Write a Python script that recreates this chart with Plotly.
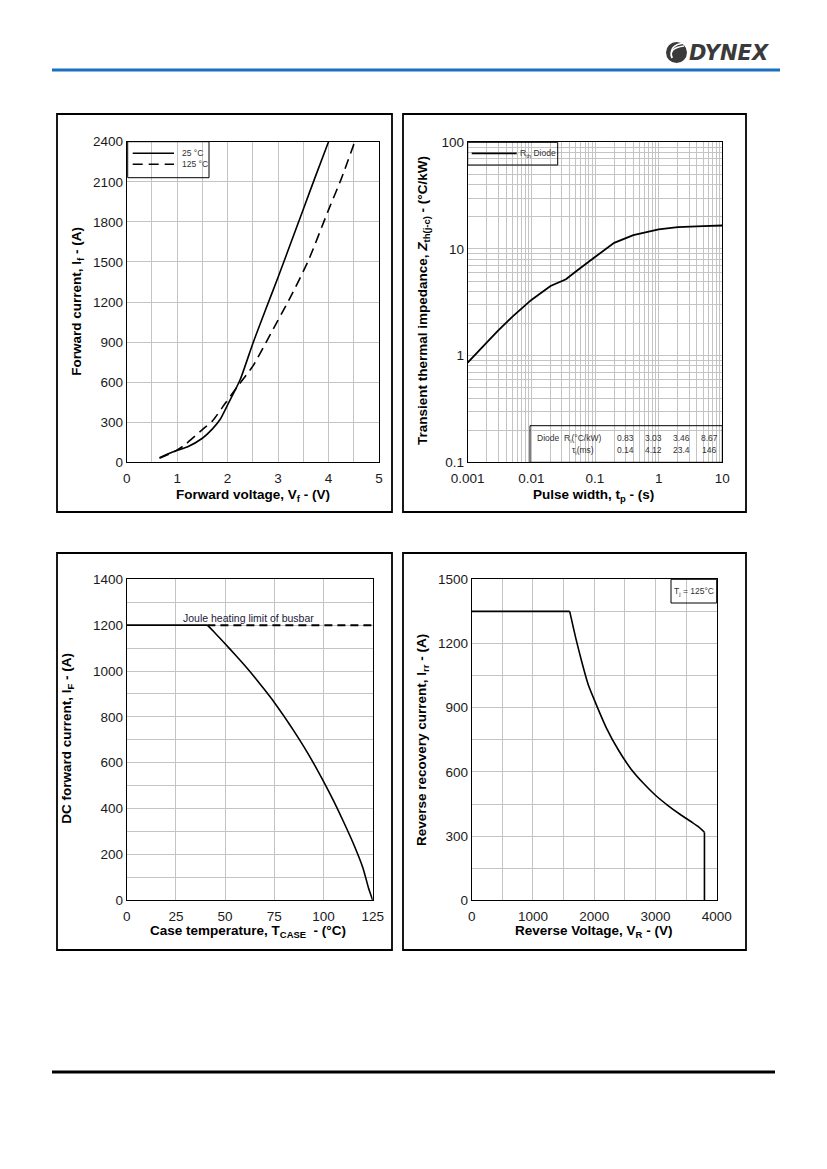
import plotly.graph_objects as go

# ---- data ----
# forward characteristic
vf_25 = [0.65, 0.8, 1.0, 1.2, 1.5, 1.7, 1.85, 2.0, 2.25, 2.5, 2.75, 3.0, 3.25, 3.5, 3.75, 4.0]
if_25 = [35, 60, 90, 115, 180, 250, 320, 430, 620, 890, 1140, 1385, 1640, 1895, 2150, 2400]
vf_125 = [0.65, 0.95, 1.15, 1.5, 1.7, 1.95, 2.2, 2.5, 2.85, 3.25, 3.6, 4.0, 4.25, 4.52]
if_125 = [30, 80, 130, 245, 310, 440, 570, 720, 960, 1240, 1510, 1890, 2120, 2400]

# transient thermal impedance
tp = [0.001, 0.002, 0.003, 0.005, 0.01, 0.02, 0.035, 0.05, 0.1, 0.2, 0.4, 1, 2, 5, 10]
zth = [0.86, 1.33, 1.72, 2.31, 3.33, 4.5, 5.2, 6.15, 8.4, 11.4, 13.5, 15.3, 16.0, 16.4, 16.6]
ri_vals = ["0.83", "3.03", "3.46", "8.67"]
tau_vals = ["0.14", "4.12", "23.4", "146"]

# DC current rating vs case temperature
tcase = [0, 41, 45, 50, 55, 60, 65, 70, 75, 80, 85, 90, 95, 100, 105, 110, 115, 120, 123, 125]
if_dc = [1200, 1200, 1165, 1119, 1072, 1024, 973, 919, 863, 802, 738, 670, 597, 519, 436, 346, 251, 142, 50, 0]
busbar_t = [41, 125]
busbar_i = [1200, 1200]

# reverse recovery safe operating area
vr = [0, 1600, 1700, 1800, 1900, 2000, 2200, 2400, 2600, 2800, 3000, 3200, 3400, 3600, 3700, 3800, 3800]
irr = [1350, 1350, 1224, 1111, 1010, 938, 805, 700, 614, 548, 491, 444, 402, 364, 344, 318, 0]

# the page body has an 8px margin, so the figure is drawn 8px in from the corner
OFF = 8
W, H = 827 - 2 * OFF, 1169 - 2 * OFF
FONT = "Liberation Sans, Arial, sans-serif"
GRID = "#c4c4c4"


def px(x):
    return (x - OFF) / W


def py(y):
    return 1 - (y - OFF) / H


def dom(x0, x1, y0, y1):
    return [px(x0), px(x1)], [py(y1), py(y0)]


def curve(x, y, ax, width=1.6, dash="solid", smooth=None):
    shape = "spline" if smooth else "linear"
    return go.Scatter(x=x, y=y, mode="lines", xaxis="x" + ax, yaxis="y" + ax,
                      line=dict(color="black", width=width, dash=dash, shape=shape,
                                smoothing=smooth if smooth else 1, simplify=False),
                      showlegend=False, hoverinfo="x+y")


fig = go.Figure()
fig.add_trace(curve(vf_25, if_25, "", smooth=0.6))
fig.add_trace(curve(vf_125, if_125, "", dash="10px,6px", smooth=0.6))
fig.add_trace(curve(tp, zth, "2", width=1.8))
fig.add_trace(curve(tcase[:2], if_dc[:2], "3"))
fig.add_trace(curve(tcase[1:], if_dc[1:], "3", smooth=0.6))
fig.add_trace(curve(busbar_t, busbar_i, "3", width=2, dash="8px,5px"))
fig.add_trace(curve(vr[:2], irr[:2], "4"))
fig.add_trace(curve(vr[1:-1], irr[1:-1], "4", smooth=0.6))
fig.add_trace(curve(vr[-2:], irr[-2:], "4"))

axis_common = dict(showline=True, linecolor="black", linewidth=1, mirror=True,
                   showgrid=True, gridcolor=GRID, gridwidth=1, zeroline=False,
                   automargin=False, tickangle=0,
                   ticks="", tickfont=dict(family=FONT, size=13.5, color="#1a1a1a"))
xaxis_common = dict(axis_common, ticklabelstandoff=3)

x1d, y1d = dom(126.7, 379, 141.7, 462.3)
x2d, y2d = dom(467.7, 722.3, 142.3, 462.3)
x3d, y3d = dom(126.7, 372.7, 579.3, 900.3)
x4d, y4d = dom(471.7, 716.7, 579.3, 900.3)

decades_x = [0.001, 0.01, 0.1, 1, 10]
decades_y = [0.1, 1, 10, 100]
logx_vals, logx_text = [], []
for d in decades_x:
    for m in range(1, 10):
        v = d * m
        if v > 10.0001:
            break
        logx_vals.append(v)
        logx_text.append(str(d) if m == 1 else " ")
logy_vals, logy_text = [], []
for d in decades_y:
    for m in range(1, 10):
        v = d * m
        if v > 100.001:
            break
        logy_vals.append(v)
        logy_text.append(str(d) if m == 1 else " ")

fig.update_layout(
    width=W, height=H, margin=dict(l=0, r=0, t=0, b=0, pad=0, autoexpand=False),
    paper_bgcolor="white", plot_bgcolor="white", showlegend=False,
    xaxis=dict(xaxis_common, domain=x1d, anchor="y", range=[0, 5], dtick=1,
               minor=dict(dtick=0.5, showgrid=True, gridcolor=GRID)),
    yaxis=dict(axis_common, domain=y1d, anchor="x", range=[0, 2400], dtick=300),
    xaxis2=dict(xaxis_common, domain=x2d, anchor="y2", type="log", range=[-3, 1],
                tickvals=logx_vals, ticktext=logx_text),
    yaxis2=dict(axis_common, domain=y2d, anchor="x2", type="log", range=[-1, 2],
                tickvals=logy_vals, ticktext=logy_text),
    xaxis3=dict(xaxis_common, domain=x3d, anchor="y3", range=[0, 125], dtick=25),
    yaxis3=dict(axis_common, domain=y3d, anchor="x3", range=[0, 1400], dtick=200,
                minor=dict(dtick=100, showgrid=True, gridcolor=GRID)),
    xaxis4=dict(xaxis_common, domain=x4d, anchor="y4", range=[0, 4000], dtick=1000,
                minor=dict(dtick=500, showgrid=True, gridcolor=GRID)),
    yaxis4=dict(axis_common, domain=y4d, anchor="x4", range=[0, 1500], dtick=300,
                minor=dict(dtick=150, showgrid=True, gridcolor=GRID)),
)

shapes = []
annotations = []


def rect(x0, y0, x1, y1, width=1.0, fill=None):
    shapes.append(dict(type="rect", xref="paper", yref="paper",
                       x0=px(x0), x1=px(x1), y0=py(y1), y1=py(y0),
                       line=dict(color="black", width=width),
                       fillcolor=fill if fill else "rgba(0,0,0,0)"))


def hline(x0, x1, y, width=1.6, dash="solid", color="black"):
    shapes.append(dict(type="line", xref="paper", yref="paper",
                       x0=px(x0), x1=px(x1), y0=py(y), y1=py(y),
                       line=dict(color=color, width=width, dash=dash)))


def text(x, y, s, size=13.5, bold=False, angle=0, xanchor="center", color="black"):
    annotations.append(dict(xref="paper", yref="paper", x=px(x), y=py(y), text=s,
                            showarrow=False, textangle=angle, xanchor=xanchor,
                            yanchor="middle",
                            font=dict(family=FONT, size=size, color=color,
                                      weight="bold" if bold else "normal")))


# page header / footer
hline(52, 780, 70, width=3, color="#1a6fc0")
hline(52, 775, 1072, width=3, color="black")
shapes.append(dict(type="circle", xref="paper", yref="paper",
                   x0=px(666), x1=px(687), y0=py(63), y1=py(42),
                   fillcolor="#3a3a3a", line=dict(width=0)))
for r0 in (6, 9):
    shapes.append(dict(type="path", xref="paper", yref="paper",
                       path=f"M {px(684)} {py(52 - r0)} Q {px(668)} {py(52 - r0 + 2)} {px(672)} {py(58)}",
                       line=dict(color="white", width=1.5)))
annotations.append(dict(xref="paper", yref="paper", x=px(729), y=py(53), text="<i>DYNEX</i>",
                        showarrow=False, xanchor="center", yanchor="middle",
                        font=dict(family="DejaVu Sans", size=21, color="#3a3a3a", weight="bold")))

# chart frames
rect(57, 114, 392, 512, width=1.8)
rect(403, 114, 746, 512, width=1.8)
rect(57, 553, 392, 950, width=1.8)
rect(403, 553, 746, 950, width=1.8)

# chart 1 titles + legend
text(252.5, 495, "Forward voltage, V<sub>f</sub> - (V)", bold=True)
text(76.7, 301, "Forward current, I<sub>f</sub> - (A)", bold=True, angle=-90)
rect(127.7, 141.7, 209, 177.7, width=1)
hline(132.7, 174, 153.3, width=1.6)
hline(132.7, 174, 164.3, width=1.6, dash="10px,6px")
text(180, 153.3, "25 °C", size=8.5, xanchor="left", color="#333")
text(180, 164.3, "125 °C", size=8.5, xanchor="left", color="#333")

# chart 2 titles + legend + table
text(593, 495, "Pulse width, t<sub>p</sub> - (s)", bold=True)
text(423, 301, "Transient thermal impedance, <i>Z</i><sub>th(j-c)</sub> - (°C/kW)", bold=True, angle=-90)
rect(467.7, 142.3, 557.7, 165, width=1)
hline(471.7, 516.7, 153.3, width=1.8)
text(518, 153.5, "R<sub>th</sub> Diode", size=8.5, xanchor="left", color="#333")
rect(530, 425.7, 722.3, 462.3, width=1)
text(535, 438.3, "Diode", size=8.5, xanchor="left", color="#333")
text(561.7, 438.3, "R<sub>i</sub>(°C/kW)", size=8.5, xanchor="left", color="#333")
text(570, 450, "τ<sub>i</sub>(ms)", size=8.5, xanchor="left", color="#333")
for cx, rv, tv in zip([625, 653, 681.7, 709], ri_vals, tau_vals):
    text(cx, 438.3, rv, size=8.5, color="#333")
    text(cx, 450, tv, size=8.5, color="#333")

# chart 3 titles + busbar note
text(248, 931.7, "Case temperature, T<sub>CASE</sub>  - (°C)", bold=True)
text(66.7, 738, "DC forward current, I<sub>F</sub> - (A)", bold=True, angle=-90)
annotations.append(dict(xref="x3", yref="y3", x=62, y=1200, text="Joule heating limit of busbar",
                        showarrow=False, xanchor="center", yanchor="bottom", yshift=-1,
                        font=dict(family=FONT, size=10.5, color="#1a1a3a")))

# chart 4 titles + condition box
text(593, 931.7, "Reverse Voltage, V<sub>R</sub> - (V)", bold=True)
text(422, 740, "Reverse recovery current, I<sub>rr</sub> - (A)", bold=True, angle=-90)
rect(671, 579.3, 716.7, 603, width=1)
text(694, 591, "T<sub>j</sub> = 125°C", size=8.5, color="#333")

fig.update_layout(shapes=shapes, annotations=annotations)

fig.write_html("out.html")
